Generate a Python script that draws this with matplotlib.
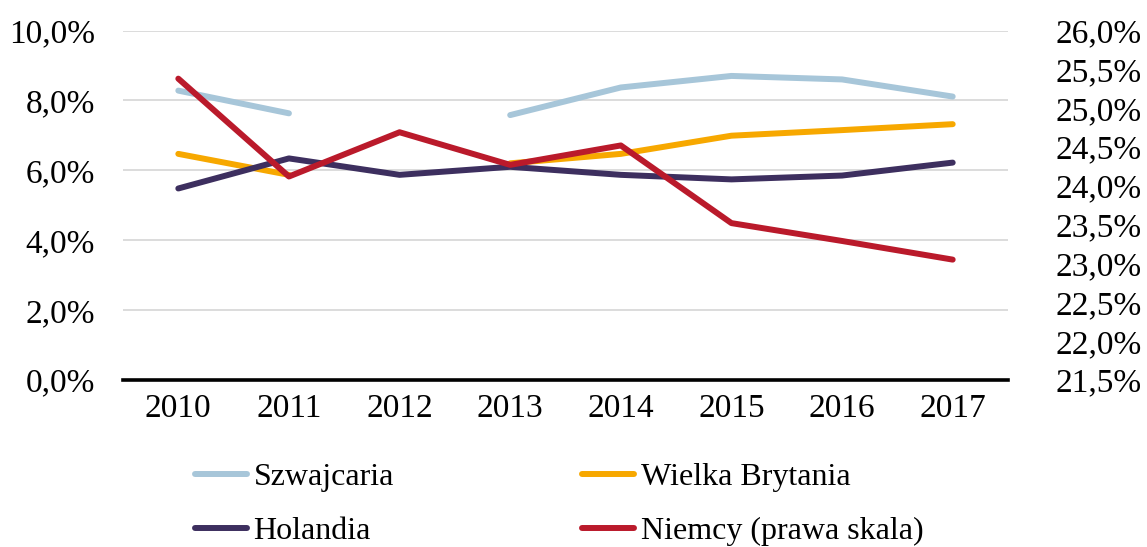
import numpy as np
import matplotlib
matplotlib.use("Agg")
import matplotlib.pyplot as plt
from matplotlib.ticker import FuncFormatter

years = ["2010", "2011", "2012", "2013", "2014", "2015", "2016", "2017"]
szwajcaria = [8.28, 7.63, np.nan, 7.58, 8.37, 8.70, 8.60, 8.11]
wielka_brytania = [6.47, 5.87, np.nan, 6.20, 6.47, 6.99, 7.15, 7.32]
holandia = [5.48, 6.34, 5.87, 6.10, 5.87, 5.74, 5.85, 6.22]
niemcy = [25.38, 24.12, 24.69, 24.27, 24.52, 23.52, 23.29, 23.05]

left_ticks = [0, 2, 4, 6, 8, 10]
right_ticks = [21.5, 22.0, 22.5, 23.0, 23.5, 24.0, 24.5, 25.0, 25.5, 26.0]

c_sz = "#A7C6D9"
c_wb = "#F7A800"
c_ho = "#3D2F5F"
c_ni = "#BA1A2B"

plt.rcParams['font.family'] = ['Liberation Serif', 'DejaVu Serif']
FS = 24
LFS = 23

fig = plt.figure(figsize=(11.47, 5.47), dpi=100)
ax = fig.add_axes([123/1147, 1-380/547, (1008-123)/1147, (380-30.5)/547])
ax2 = ax.twinx()

x = np.arange(len(years))
lw = 4.3
kw = dict(lw=lw, solid_capstyle='round', solid_joinstyle='round')
l1, = ax.plot(x, szwajcaria, color=c_sz, label="Szwajcaria", **kw)
l2, = ax.plot(x, wielka_brytania, color=c_wb, label="Wielka Brytania", **kw)
l3, = ax.plot(x, holandia, color=c_ho, label="Holandia", **kw)
l4, = ax2.plot(x, niemcy, color=c_ni, label="Niemcy (prawa skala)", **kw)

ax.set_xlim(-0.5, len(years) - 0.5)
ax.set_ylim(0, 10)
ax2.set_ylim(21.5, 26.0)
ax.set_xticks(x)
ax.set_xticklabels(years)
ax.set_yticks(left_ticks)
ax2.set_yticks(right_ticks)

fmt = FuncFormatter(lambda v, p: f"{v:.1f}".replace(".", ",") + "%")
ax.yaxis.set_major_formatter(fmt)
ax2.yaxis.set_major_formatter(fmt)

ax.grid(axis='y', color='#D9D9D9', lw=1.3)
ax.set_axisbelow(True)
for a in (ax, ax2):
    for s in ['top', 'left', 'right', 'bottom']:
        a.spines[s].set_visible(False)
ax.axhline(0, color='black', lw=2.6, zorder=1, clip_on=False)

ax.tick_params(axis='both', length=0, labelsize=FS, colors='black')
ax.tick_params(axis='x', pad=10)
ax.tick_params(axis='y', pad=20)
ax2.tick_params(axis='y', length=0, labelsize=FS, pad=34)

fig.legend(handles=[l1, l3, l2, l4], loc='upper left',
           bbox_to_anchor=(195/1147, 1-463/547), ncol=2, frameon=False,
           fontsize=LFS, handlelength=1.63, handletextpad=0.2,
           columnspacing=5.9, labelspacing=0.75, borderpad=0, borderaxespad=0)

fig.savefig("out.png", dpi=100)
